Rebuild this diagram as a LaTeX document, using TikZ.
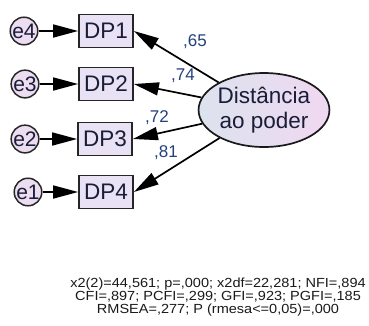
\documentclass[tikz,border=0pt]{standalone}
\usepackage{fontspec}
\setmainfont{Liberation Sans}
\newfontfamily\widefont[FakeStretch=1.1]{Liberation Sans}
\usetikzlibrary{arrows.meta,shapes.geometric}
\definecolor{inkdark}{HTML}{1A1D38}
\definecolor{inkblue}{HTML}{23407E}
\definecolor{boxfill}{HTML}{E9E1F4}
\definecolor{errfill}{HTML}{EDDDF1}
\definecolor{latleft}{HTML}{DCE3EE}
\definecolor{latright}{HTML}{F0D8F1}
\tikzset{
  obsbox/.style={draw=black!85, line width=1.8pt, fill=boxfill, minimum width=54pt,
    minimum height=33pt, inner sep=0pt, text=inkdark, font=\fontsize{22.5}{22.5}\selectfont},
  errnode/.style={circle, draw=black!85, line width=1.5pt, fill=errfill, minimum size=27pt,
    inner sep=0pt, text=inkdark, font=\fontsize{21}{21}\selectfont},
  latnode/.style={ellipse, draw=black!90, line width=1.7pt, left color=latleft, right color=latright,
    minimum width=128pt, minimum height=74pt, inner sep=0pt, align=center, text=inkdark,
    font=\fontsize{22.5}{25}\selectfont},
  loadpath/.style={line width=1.7pt, -{Triangle[length=25pt,width=13pt]}},
  loadlabel/.style={text=inkblue, font=\fontsize{17}{17}\selectfont, inner sep=0pt},
  fitlabel/.style={align=center, text=black!90, font=\widefont\fontsize{13.2}{13.3}\selectfont, inner sep=0pt}
}
\begin{document}
\begin{tikzpicture}[x=1pt,y=-1pt]
  \useasboundingbox (0,0) rectangle (369,325);
  % observed indicators
  \node[obsbox] (dp1) at (106,31) {DP1};
  \node[obsbox] (dp2) at (106,84) {DP2};
  \node[obsbox] (dp3) at (105,139) {DP3};
  \node[obsbox] (dp4) at (106,192) {DP4};
  % error terms
  \node[errnode] (e4) at (24,31) {e4};
  \node[errnode] (e3) at (25,84) {e3};
  \node[errnode] (e2) at (25,139) {e2};
  \node[errnode] (e1) at (28,192) {e1};
  % latent factor
  \node[latnode] (lat) at (264,110) {Distância\\ao poder};
  % error paths
  \draw[loadpath] (e4) -- (dp1);
  \draw[loadpath] (e3) -- (dp2);
  \draw[loadpath] (e2) -- (dp3);
  \draw[loadpath] (e1) -- (dp4);
  % factor loadings
  \draw[loadpath] (lat) -- (dp1.east);
  \draw[loadpath] (lat) -- (dp2.east);
  \draw[loadpath] (lat) -- (dp3.east);
  \draw[loadpath] (lat) -- (dp4.east);
  \node[loadlabel] (l1) at (195,42) {,65};
  \node[loadlabel] (l2) at (183,76) {,74};
  \node[loadlabel] (l3) at (157,118) {,72};
  \node[loadlabel] (l4) at (166,153) {,81};
  % fit indices
  \node[fitlabel] (fit) at (218,297) {x2(2)=44,561; p=,000; x2df=22,281; NFI=,894\\CFI=,897; PCFI=,299; GFI=,923; PGFI=,185\\RMSEA=,277; P (rmesa<=0,05)=,000};
\end{tikzpicture}
\end{document}
